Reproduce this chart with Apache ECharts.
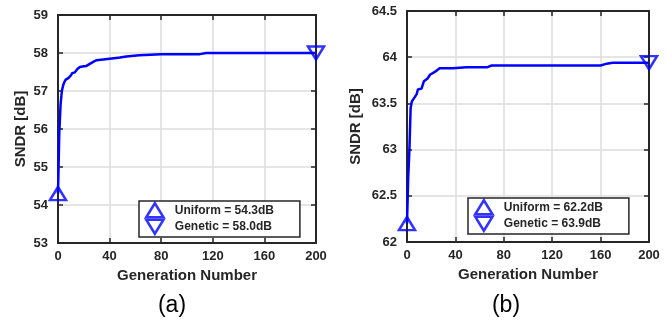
<!DOCTYPE html>
<html>
<head>
<meta charset="utf-8">
<script src="https://cdn.jsdelivr.net/npm/echarts@6/dist/echarts.min.js"></script>
<style>
  html, body { margin: 0; padding: 0; background: #ffffff; }
  #chart { width: 667px; height: 320px; }
</style>
</head>
<body>
<div id="chart"></div>
<script>
// Best SNDR found so far versus genetic-algorithm generation, two designs.
const generationTicks = [0, 40, 80, 120, 160, 200];

// (a) design
const convergenceA = [
  [0, 54.3], [1, 55.9], [2, 56.65], [3, 57.0], [4, 57.15], [5, 57.24],
  [6, 57.3], [8, 57.34], [10, 57.41], [11, 57.47], [13, 57.49], [14, 57.5],
  [15, 57.58], [17, 57.63], [20, 57.65], [22, 57.66], [25, 57.72], [28, 57.78],
  [30, 57.81], [35, 57.83], [40, 57.85], [45, 57.87], [48, 57.88], [53, 57.91],
  [63, 57.94], [80, 57.97], [110, 57.97], [115, 58.0], [200, 58.0]
];
const uniformA = [0, 54.3];
const geneticA = [200, 58.0];
const yTicksA = [53, 54, 55, 56, 57, 58, 59];

// (b) design
const convergenceB = [
  [0, 62.2], [1, 62.7], [2, 63.0], [3, 63.45], [4, 63.52], [6, 63.56],
  [8, 63.6], [9, 63.65], [12, 63.66], [14, 63.74], [17, 63.77], [19, 63.81],
  [20, 63.83], [24, 63.85], [27, 63.88], [38, 63.88], [49, 63.89], [66, 63.89],
  [70, 63.91], [160, 63.91], [165, 63.93], [170, 63.94], [200, 63.94]
];
const uniformB = [0, 62.2];
const geneticB = [200, 63.94];
const yTicksB = [62, 62.5, 63, 63.5, 64, 64.5];

const FONT = '"Liberation Sans", Arial, Helvetica, sans-serif';
const INK = '#262626';
const BLUE = '#0000ff';
const GRIDLINE = '#dcdcdc';
const UP = 'path://M0,13 L8,0 L16,13 Z';
const DOWN = 'path://M0,0 L16,0 L8,13 Z';

const label = (v) => v.toFixed(1);
const uniformNameA = 'Uniform = ' + label(uniformA[1]) + 'dB';
const geneticNameA = 'Genetic = ' + label(geneticA[1]) + 'dB';
const uniformNameB = 'Uniform = ' + label(uniformB[1]) + 'dB';
const geneticNameB = 'Genetic = ' + label(geneticB[1]) + 'dB';

function xAxes(gridIndex) {
  const min = generationTicks[0];
  const max = generationTicks[generationTicks.length - 1];
  const step = generationTicks[1] - generationTicks[0];
  return [{
    type: 'value', gridIndex, min, max, interval: step, position: 'bottom',
    name: 'Generation Number', nameLocation: 'middle', nameGap: 24,
    nameTextStyle: { color: INK, fontFamily: FONT, fontWeight: 'bold', fontSize: 15 },
    axisLine: { show: true, onZero: false, lineStyle: { color: INK, width: 2 } },
    axisTick: { show: true, inside: true, length: 5, lineStyle: { color: INK, width: 1.5 } },
    axisLabel: { color: INK, fontFamily: FONT, fontWeight: 'bold', fontSize: 13, margin: 7 },
    splitLine: { show: true, lineStyle: { color: GRIDLINE, width: 1.5 } }
  }, {
    type: 'value', gridIndex, min, max, interval: step, position: 'top',
    axisLine: { show: true, onZero: false, lineStyle: { color: INK, width: 2 } },
    axisTick: { show: true, inside: true, length: 5, lineStyle: { color: INK, width: 1.5 } },
    axisLabel: { show: false },
    splitLine: { show: false }
  }];
}

function yAxes(gridIndex, ticks, nameGap) {
  const min = ticks[0];
  const max = ticks[ticks.length - 1];
  const step = ticks[1] - ticks[0];
  return [{
    type: 'value', gridIndex, min, max, interval: step, position: 'left',
    name: 'SNDR [dB]', nameLocation: 'middle', nameGap,
    nameTextStyle: { color: INK, fontFamily: FONT, fontWeight: 'bold', fontSize: 15 },
    axisLine: { show: true, onZero: false, lineStyle: { color: INK, width: 2 } },
    axisTick: { show: true, inside: true, length: 5, lineStyle: { color: INK, width: 1.5 } },
    axisLabel: { color: INK, fontFamily: FONT, fontWeight: 'bold', fontSize: 13, margin: 10 },
    splitLine: { show: true, lineStyle: { color: GRIDLINE, width: 1.5 } }
  }, {
    type: 'value', gridIndex, min, max, interval: step, position: 'right',
    axisLine: { show: true, onZero: false, lineStyle: { color: INK, width: 2 } },
    axisTick: { show: true, inside: true, length: 5, lineStyle: { color: INK, width: 1.5 } },
    axisLabel: { show: false },
    splitLine: { show: false }
  }];
}

function markerSeries(name, point, symbol, axisIndex) {
  return {
    type: 'scatter', name, data: [point],
    xAxisIndex: axisIndex, yAxisIndex: axisIndex,
    symbol, symbolSize: [16, 13], clip: false, z: 5,
    itemStyle: { color: 'rgba(0,0,0,0)', borderColor: BLUE, borderWidth: 2.5 }
  };
}

function legendFor(names, left, top) {
  return {
    orient: 'vertical', left, top,
    data: [{ name: names[0], icon: UP }, { name: names[1], icon: DOWN }],
    itemWidth: 30, itemHeight: 14, itemGap: 0, symbolKeepAspect: true,
    padding: [1, 26, 2, 6],
    borderColor: INK, borderWidth: 1.5, backgroundColor: '#ffffff',
    selectedMode: false,
    itemStyle: { color: 'rgba(0,0,0,0)', borderColor: BLUE, borderWidth: 2.5 },
    textStyle: { color: INK, fontFamily: FONT, fontWeight: 'bold', fontSize: 12, lineHeight: 14 }
  };
}

const chart = echarts.init(document.getElementById('chart'), null, { renderer: 'canvas' });

chart.setOption({
  animation: false,
  backgroundColor: '#ffffff',
  grid: [
    { left: 58, top: 15, width: 258, height: 228 },
    { left: 407, top: 11, width: 242, height: 231 }
  ],
  xAxis: [...xAxes(0), ...xAxes(1)],
  yAxis: [...yAxes(0, yTicksA, 30), ...yAxes(1, yTicksB, 44)],
  legend: [
    legendFor([uniformNameA, geneticNameA], 139, 201),
    legendFor([uniformNameB, geneticNameB], 468, 198)
  ],
  title: [
    { text: '(a)', left: 167, top: 289, textAlign: 'center',
      textStyle: { color: '#000000', fontFamily: FONT, fontWeight: 'normal', fontSize: 23 } },
    { text: '(b)', left: 501, top: 289, textAlign: 'center',
      textStyle: { color: '#000000', fontFamily: FONT, fontWeight: 'normal', fontSize: 23 } }
  ],
  series: [
    {
      type: 'line', name: 'convergence (a)', data: convergenceA,
      xAxisIndex: 0, yAxisIndex: 0, showSymbol: false, symbol: 'none', z: 4,
      lineStyle: { color: BLUE, width: 2.5 }
    },
    markerSeries(uniformNameA, uniformA, UP, 0),
    markerSeries(geneticNameA, geneticA, DOWN, 0),
    {
      type: 'line', name: 'convergence (b)', data: convergenceB,
      xAxisIndex: 2, yAxisIndex: 2, showSymbol: false, symbol: 'none', z: 4,
      lineStyle: { color: BLUE, width: 2.5 }
    },
    markerSeries(uniformNameB, uniformB, UP, 2),
    markerSeries(geneticNameB, geneticB, DOWN, 2)
  ]
});
</script>
</body>
</html>
